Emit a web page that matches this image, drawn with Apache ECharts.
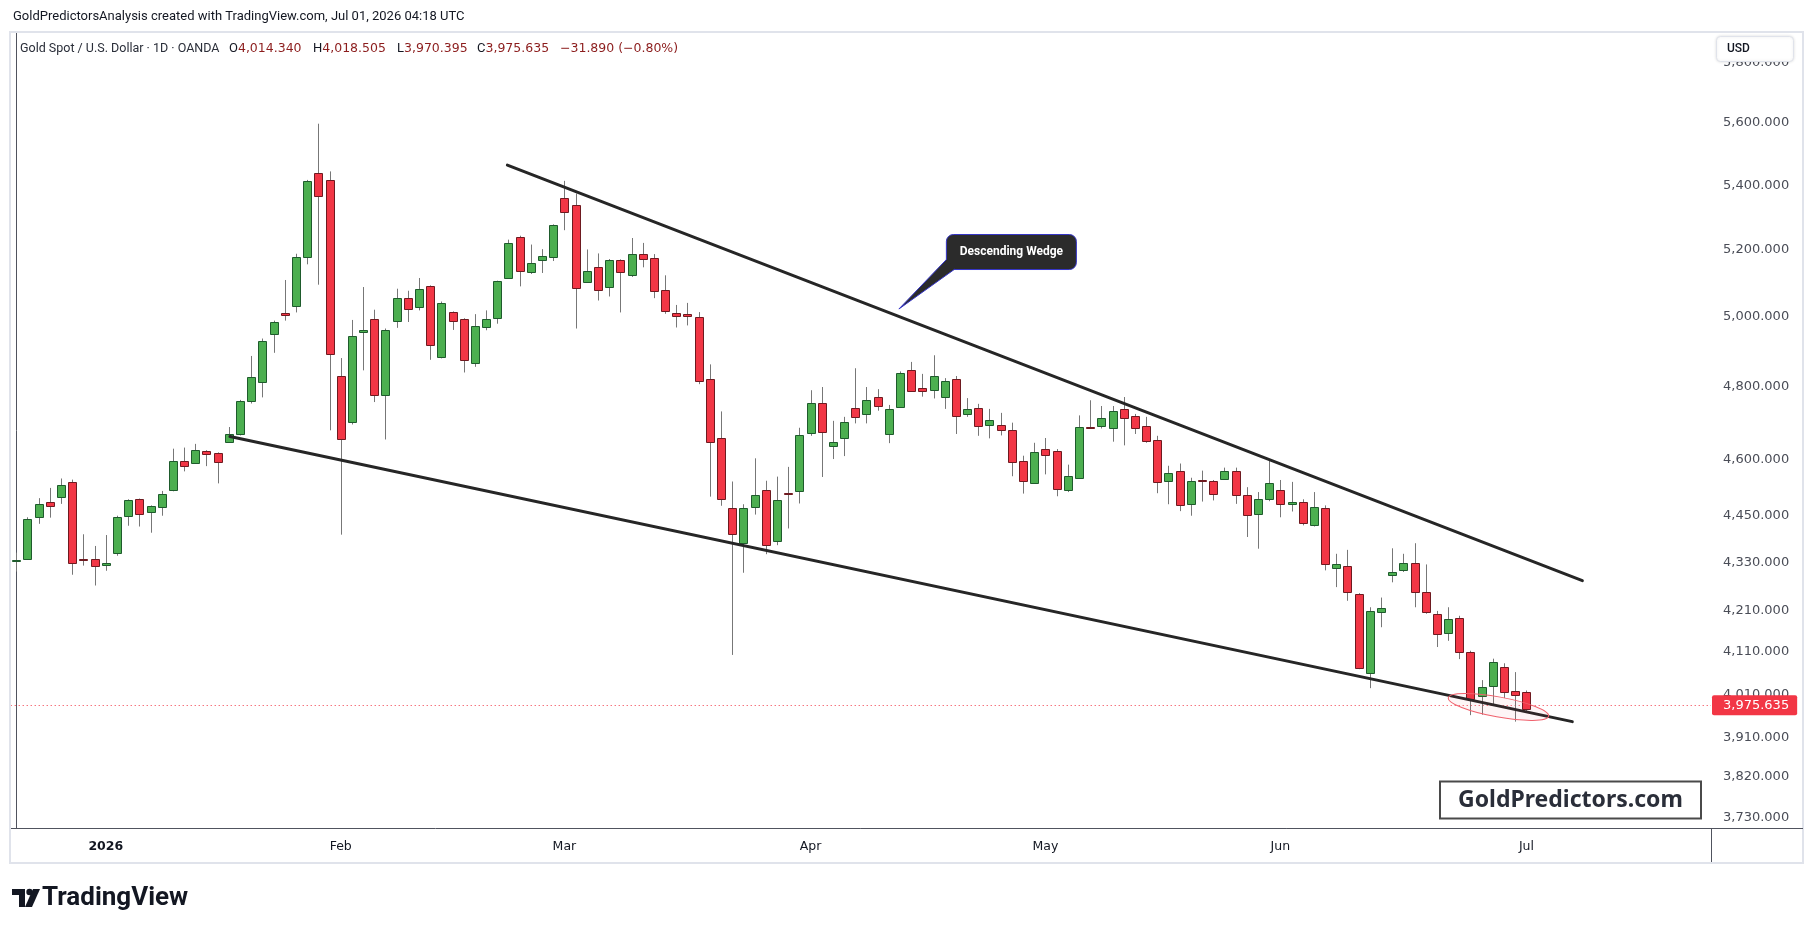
<!DOCTYPE html>
<html>
<head>
<meta charset="utf-8">
<title>Gold Spot / U.S. Dollar - 1D</title>
<script src="https://cdn.jsdelivr.net/npm/echarts@6/dist/echarts.min.js"></script>
<style>
html,body{margin:0;padding:0;background:#fff;}
#chart{width:1814px;height:932px;}
</style>
</head>
<body>
<div id="chart"></div>
<script>
'use strict';

var opens = [4334,4340,4447,4486,4499,4540,4341,4340,4324,4354,
    4451,4495,4460,4474,4518,4596,4591,4623,4617,4648,
    4668,4759,4813,4949,5011,5031,5178,5440,5416,4830,
    4701,4955,4993,4776,4987,5055,5029,5091,4883,5014,
    4993,4866,4970,4996,5114,5240,5133,5169,5178,5360,
    5338,5103,5148,5088,5169,5124,5187,5175,5079,5011,
    5008,4999,4821,4657,4470,4380,4473,4518,4385,4511,
    4515,4672,4754,4636,4659,4741,4724,4771,4670,4743,
    4847,4796,4791,4771,4821,4724,4741,4694,4694,4681,
    4597,4537,4628,4623,4519,4550,4687,4692,4686,4738,
    4719,4692,4653,4543,4570,4481,4544,4543,4548,4570,
    4505,4455,4494,4518,4481,4486,4428,4470,4318,4323,
    4252,4059,4208,4299,4312,4330,4257,4203,4157,4193,
    4109,4006,4029,4073,4018,4014.34];
var highs = [4356,4447,4497,4524,4549,4546,4403,4373,4401,4451,
    4494,4496,4478,4516,4629,4632,4642,4625,4619,4688,
    4763,4887,4937,4989,5109,5188,5417,5598,5444,4881,
    4991,5088,5021,4966,5083,5077,5115,5093,5045,5016,
    4996,5008,5019,5107,5231,5243,5216,5202,5278,5414,
    5374,5201,5189,5172,5171,5236,5221,5187,5123,5035,
    5041,5014,4863,4731,4541,4481,4603,4543,4554,4580,
    4686,4790,4799,4705,4716,4852,4799,4793,4749,4843,
    4870,4836,4889,4824,4830,4768,4752,4738,4727,4700,
    4610,4645,4658,4628,4586,4720,4762,4746,4746,4771,
    4724,4716,4664,4583,4589,4551,4570,4545,4578,4578,
    4526,4513,4596,4545,4540,4494,4513,4478,4353,4363,
    4254,4219,4243,4367,4353,4380,4326,4210,4219,4198,
    4113,4043,4094,4083,4062,4018.505];
var lows = [4308,4338,4430,4446,4482,4300,4323,4273,4310,4348,
    4425,4423,4407,4451,4515,4568,4588,4582,4536,4646,
    4665,4753,4770,4896,4989,5013,5156,5095,4679,4402,
    4695,4846,4757,4654,4968,4985,5019,4876,4880,4962,
    4840,4856,4961,4980,5112,5090,5127,5130,5166,5260,
    4966,5100,5048,5060,5013,5118,5147,5055,5009,4969,
    4975,4807,4501,4477,4103,4305,4454,4352,4375,4418,
    4483,4664,4553,4601,4609,4698,4698,4733,4644,4741,
    4785,4772,4767,4738,4669,4716,4664,4657,4665,4555,
    4509,4535,4560,4502,4513,4548,4684,4684,4648,4638,
    4669,4645,4510,4481,4463,4451,4488,4491,4546,4482,
    4396,4366,4489,4447,4462,4426,4423,4311,4269,4235,
    4069,4024,4170,4281,4307,4219,4203,4122,4137,4093,
    3961,3962,3983,4001,3946,3970.395];
var closes = [4338,4442,4481,4476,4532,4330,4339,4321,4330,4447,
    4491,4455,4476,4508,4596,4583,4625,4615,4594,4669,
    4759,4827,4930,4984,5005,5178,5412,5365,4892,4656,
    4944,4961,4776,4961,5055,5023,5082,4918,5040,4987,
    4875,4972,4993,5105,5222,5136,5160,5181,5276,5316,
    5084,5136,5079,5169,5133,5187,5172,5076,5018,5003,
    5003,4815,4647,4494,4403,4470,4505,4375,4491,4509,
    4667,4754,4675,4647,4702,4716,4762,4746,4738,4838,
    4788,4788,4830,4816,4719,4738,4692,4708,4681,4594,
    4543,4620,4612,4521,4556,4688,4685,4713,4733,4713,
    4686,4651,4540,4564,4478,4543,4542,4508,4570,4505,
    4452,4494,4537,4481,4486,4431,4473,4326,4326,4257,
    4071,4210,4217,4307,4330,4257,4208,4154,4190,4109,
    3999,4027,4085,4015,4007.525,3975.635];

var priceTicks = [3730,3820,3910,4010,4110,4210,4330,4450,4600,4800,5000,5200,5400,5600,5800];
var priceRange = [3708, 5903];
var lastPrice = 3975.635;
var monthNames = ['Jan','Feb','Mar','Apr','May','Jun','Jul','Aug','Sep','Oct','Nov','Dec'];
var holidays = ['2025-12-25','2026-01-01','2026-04-03'];
var firstDay = '2025-12-19';
var barCount = 152;   // traded bars + the empty days on the right

// wedge lines: [bar index, price]
var wedgeUpper = [[43.9, 5464], [140.0, 4285]];
var wedgeLower = [[19.1, 4662], [139.1, 3946]];
var calloutTip = [78.9, 5023];
var lowZone = [132.5, 3980];

var L = Math.log;

var dates = [];
var d = new Date(firstDay + 'T00:00:00Z');
while (dates.length < barCount) {
    var key = d.toISOString().slice(0, 10);
    var wd = d.getUTCDay();
    if (wd !== 0 && wd !== 6 && holidays.indexOf(key) < 0) dates.push(key);
    d.setUTCDate(d.getUTCDate() + 1);
}

function isMonthStart(i) {
    if (i === 0) return false;
    return dates[i].slice(5, 7) !== dates[i - 1].slice(5, 7);
}

function fmt(p, dec) {
    var s = p.toFixed(dec).split('.');
    s[0] = s[0].replace(/\B(?=(\d{3})+(?!\d))/g, ',');
    return s.join('.');
}

var candles = [];
for (var i = 0; i < closes.length; i++) {
    candles.push([i, L(opens[i]), L(closes[i]), L(lows[i]), L(highs[i])]);
}

var UP = '#4caf50', UP_B = '#1e5b2c', DN = '#f23645', DN_B = '#6e1a20', WICK = '#777777';

var chart = echarts.init(document.getElementById('chart'));

var option = {
    animation: false,
    backgroundColor: '#ffffff',
    grid: {left: 10.7, right: 103, top: 33, bottom: 104},
    xAxis: [{
        type: 'category',
        data: dates,
        boundaryGap: true,
        axisLine: {show: true, lineStyle: {color: '#50535e', width: 1}},
        axisTick: {show: false},
        splitLine: {show: false},
        axisLabel: {
            margin: 12,
            color: '#131722',
            fontFamily: 'DejaVu Sans',
            fontSize: 12.5,
            interval: function (idx) { return isMonthStart(idx); },
            formatter: function (val) {
                var m = +val.slice(5, 7);
                return m === 1 ? '{y|' + val.slice(0, 4) + '}' : monthNames[m - 1];
            },
            rich: {y: {fontWeight: 'bold', fontFamily: 'DejaVu Sans', fontSize: 12.5, color: '#131722'}}
        }
    }, {
        type: 'value',
        min: -0.5,
        max: barCount - 0.5,
        show: false
    }],
    yAxis: [{
        type: 'value',
        position: 'right',
        min: L(priceRange[0]),
        max: L(priceRange[1]),
        axisLine: {show: true, lineStyle: {color: '#50535e', width: 1}},
        axisTick: {show: false},
        splitLine: {show: false},
        axisLabel: {
            margin: 12,
            color: '#4a4d57',
            fontFamily: 'DejaVu Sans',
            fontSize: 13,
            customValues: priceTicks.map(function (p) { return L(p); }),
            formatter: function (v) { return fmt(Math.round(Math.exp(v)), 3); }
        }
    }],
    series: [{
        type: 'custom',
        name: 'XAUUSD',
        xAxisIndex: 0,
        yAxisIndex: 0,
        data: candles,
        encode: {x: 0, y: [1, 2, 3, 4]},
        renderItem: function (params, api) {
            var idx = api.value(0);
            var o = api.coord([idx, api.value(1)]);
            var c = api.coord([idx, api.value(2)]);
            var lo = api.coord([idx, api.value(3)]);
            var hi = api.coord([idx, api.value(4)]);
            var up = api.value(2) >= api.value(1);
            var bw = Math.round(api.size([1, 0])[0] * 0.72);
            var cx = Math.round(o[0]) + 0.5;
            var top = Math.round(Math.min(o[1], c[1])) + 0.5;
            var bot = Math.round(Math.max(o[1], c[1])) + 0.5;
            if (bot - top < 1) bot = top + 1;
            return {
                type: 'group',
                children: [{
                    type: 'line',
                    shape: {x1: cx, y1: hi[1], x2: cx, y2: lo[1]},
                    style: {stroke: WICK, lineWidth: 1}
                }, {
                    type: 'rect',
                    shape: {x: cx - bw / 2, y: top, width: bw, height: bot - top},
                    style: {fill: up ? UP : DN, stroke: up ? UP_B : DN_B, lineWidth: 1}
                }]
            };
        },
        z: 3
    }, {
        type: 'line',
        name: 'upper',
        xAxisIndex: 1,
        yAxisIndex: 0,
        data: wedgeUpper.map(function (p) { return [p[0], L(p[1])]; }),
        symbol: 'none',
        lineStyle: {color: '#262626', width: 3, cap: 'round'},
        silent: true,
        z: 4,
        markLine: {
            silent: true,
            symbol: 'none',
            data: [{yAxis: L(lastPrice)}],
            lineStyle: {color: '#f23645', type: [1, 3], width: 1},
            label: {
                show: true,
                position: 'end',
                distance: 1,
                formatter: fmt(lastPrice, 3),
                color: '#ffffff',
                backgroundColor: '#f23645',
                fontFamily: 'DejaVu Sans',
                fontSize: 13,
                padding: [4, 8, 3, 11],
                borderRadius: 2
            },
            z: 1
        }
    }, {
        type: 'line',
        name: 'lower',
        xAxisIndex: 1,
        yAxisIndex: 0,
        data: wedgeLower.map(function (p) { return [p[0], L(p[1])]; }),
        symbol: 'none',
        lineStyle: {color: '#262626', width: 3, cap: 'round'},
        silent: true,
        z: 4
    }]
};

chart.setOption(option);

// annotations anchored through the axes
var tip = chart.convertToPixel({xAxisIndex: 1, yAxisIndex: 0}, [calloutTip[0], L(calloutTip[1])]);
var zone = chart.convertToPixel({xAxisIndex: 1, yAxisIndex: 0}, [lowZone[0], L(lowZone[1])]);

var legendStyle = {fontFamily: 'Roboto', fontSize: 13, fill: '#131722'};
var valStyle = {fontFamily: 'DejaVu Sans', fontSize: 12.5, fill: '#8c1d1d'};

function txt(x, y, text, st, extra, z) {
    var s = Object.assign({x: x, y: y, text: text, verticalAlign: 'middle'}, st, extra || {});
    return {type: 'text', style: s, z: z || 50};
}

var graphics = [
    // panel frame
    {type: 'rect', shape: {x: 10, y: 32, width: 1793, height: 831}, style: {fill: 'none', stroke: '#e0e3eb', lineWidth: 2}, z: 40},
    {type: 'line', shape: {x1: 1711.5, y1: 828, x2: 1711.5, y2: 862}, style: {stroke: '#50535e', lineWidth: 1}, z: 40},
    {type: 'line', shape: {x1: 1711, y1: 828.5, x2: 1803, y2: 828.5}, style: {stroke: '#50535e', lineWidth: 1}, z: 40},

    txt(13, 17, 'GoldPredictorsAnalysis created with TradingView.com, Jul 01, 2026 04:18 UTC', legendStyle),
    txt(20, 49, 'Gold Spot / U.S. Dollar \u00b7 1D \u00b7 OANDA', legendStyle, {fill: '#2a2e39', fontSize: 12.5}),
    txt(229, 49, '{k|O}4,014.340', valStyle, {rich: {k: legendStyle}}),
    txt(313, 49, '{k|H}4,018.505', valStyle, {rich: {k: legendStyle}}),
    txt(397, 49, '{k|L}3,970.395', valStyle, {rich: {k: legendStyle}}),
    txt(477, 49, '{k|C}3,975.635', valStyle, {rich: {k: legendStyle}}),
    txt(560, 49, '\u221231.890 (\u22120.80%)', valStyle),

    // currency box
    {type: 'rect', shape: {x: 1716.5, y: 36.5, width: 77, height: 25, r: 4},
        style: {fill: '#ffffff', stroke: '#e0e3eb', lineWidth: 1, shadowBlur: 3, shadowColor: 'rgba(0,0,0,0.12)'}, z: 60},
    txt(1727, 49, 'USD', {fontFamily: 'Roboto', fontSize: 12, fontWeight: 500, fill: '#131722'}, {}, 61),

    // watermark box
    {type: 'rect', shape: {x: 1440, y: 781.5, width: 261, height: 37},
        style: {fill: '#ffffff', stroke: '#4a4a4a', lineWidth: 2}, z: 60},
    {type: 'text', style: {x: 1570.5, y: 800.5, text: 'GoldPredictors.com', align: 'center', verticalAlign: 'middle',
        fontFamily: 'Noto Sans', fontWeight: 'bold', fontSize: 23, fill: '#2a2e39'}, z: 61},

    // TradingView logo
    {type: 'rect', shape: {x: 12, y: 889, width: 13, height: 6}, style: {fill: '#131722'}, z: 50},
    {type: 'rect', shape: {x: 19, y: 889, width: 6, height: 18}, style: {fill: '#131722'}, z: 50},
    {type: 'circle', shape: {cx: 29.5, cy: 892, r: 3.2}, style: {fill: '#131722'}, z: 50},
    {type: 'polygon', shape: {points: [[33, 889], [40, 889], [32, 907], [25, 907]]}, style: {fill: '#131722'}, z: 50},
    txt(42, 898, 'TradingView', {fontFamily: 'Roboto', fontWeight: 'bold', fontSize: 26, fill: '#131722'}),

    // callout for the pattern
    {type: 'rect', shape: {x: tip[0] + 47.5, y: tip[1] - 74.5, width: 130, height: 35, r: 7},
        style: {fill: '#2b2b2b', stroke: '#3535c8', lineWidth: 1}, z: 70},
    {type: 'polygon', shape: {points: [[tip[0], tip[1]], [tip[0] + 48, tip[1] - 50], [tip[0] + 56, tip[1] - 40]]},
        style: {fill: '#2b2b2b'}, z: 71},
    {type: 'polyline', shape: {points: [[tip[0] + 48, tip[1] - 50], [tip[0], tip[1]], [tip[0] + 56, tip[1] - 40]]},
        style: {stroke: '#3535c8', lineWidth: 1, fill: null}, z: 72},
    {type: 'text', style: {x: tip[0] + 112.5, y: tip[1] - 57, text: 'Descending Wedge', align: 'center', verticalAlign: 'middle',
        fontFamily: 'Roboto', fontWeight: 'bold', fontSize: 12, fill: '#ffffff'}, z: 73},

    // highlighted lows
    {type: 'ellipse', x: zone[0], y: zone[1], rotation: -0.18,
        shape: {cx: 0, cy: 0, rx: 51, ry: 10},
        style: {fill: 'rgba(242,54,69,0.05)', stroke: '#f0616d', lineWidth: 1}, z: 65}
];

chart.setOption({graphic: graphics});
</script>
</body>
</html>
